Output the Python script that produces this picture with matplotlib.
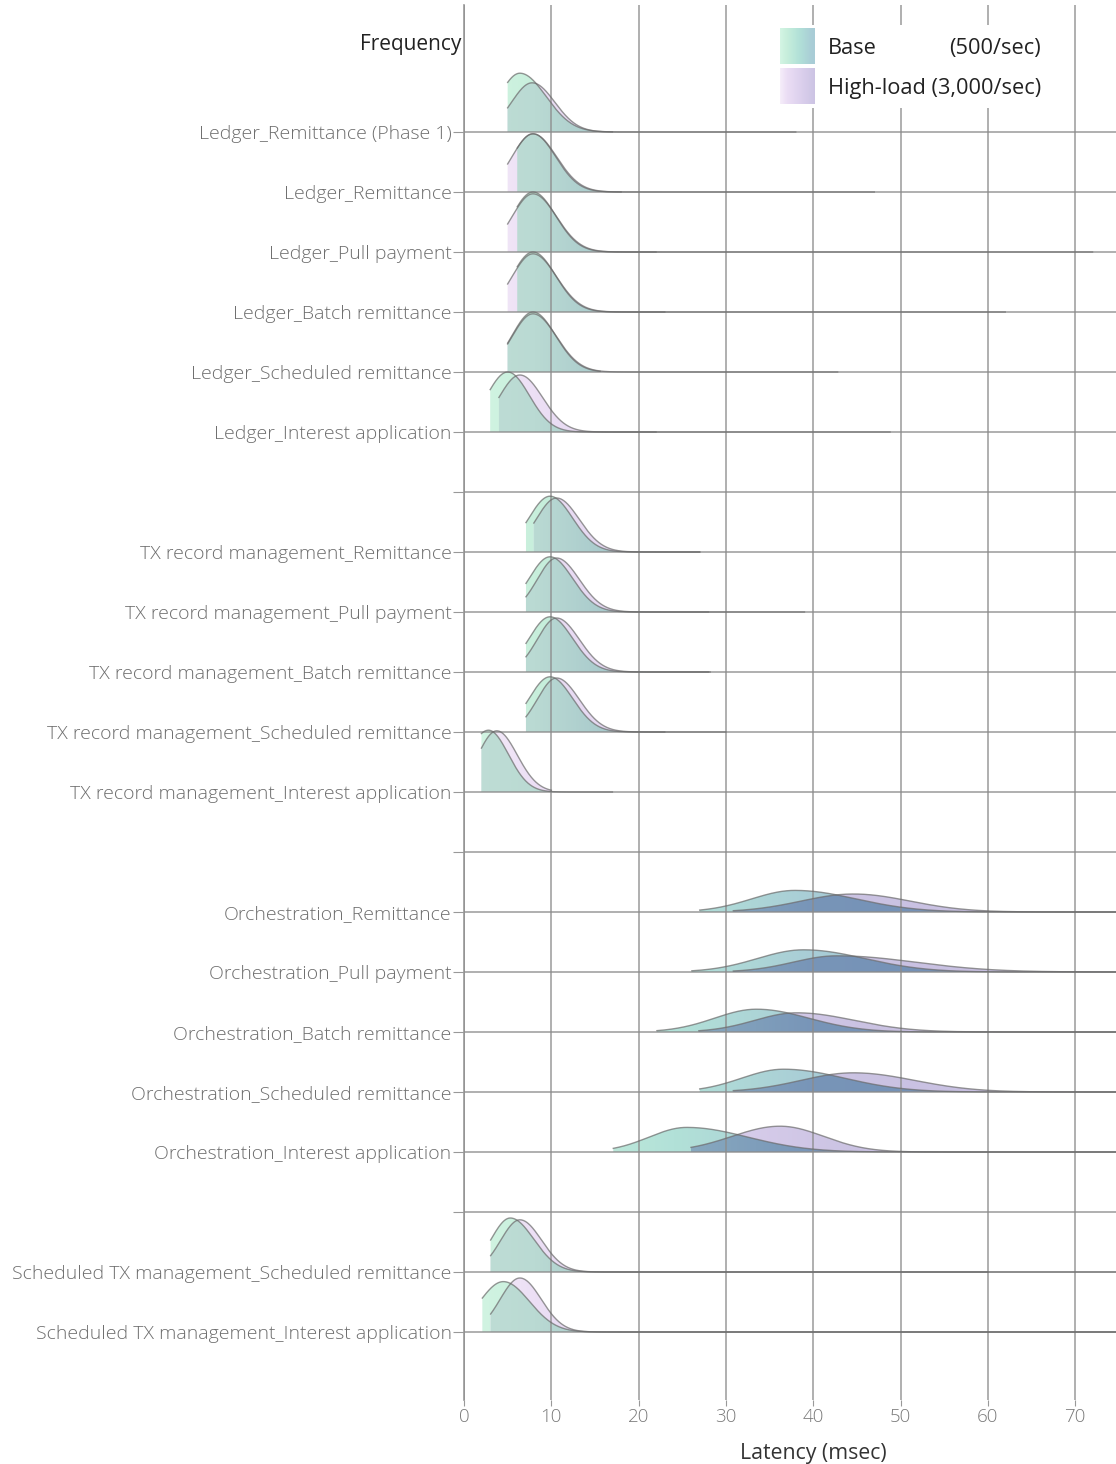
import numpy as np
import matplotlib
matplotlib.use("Agg")
import matplotlib.pyplot as plt
from matplotlib.colors import LinearSegmentedColormap
from matplotlib.patches import Polygon, Rectangle

plt.rcParams["font.family"] = ["Open Sans", "DejaVu Sans"]

# row labels, top to bottom ("" = spacer row between service groups)
labels = [
    "Ledger_Remittance (Phase 1)",
    "Ledger_Remittance",
    "Ledger_Pull payment",
    "Ledger_Batch remittance",
    "Ledger_Scheduled remittance",
    "Ledger_Interest application",
    "",
    "TX record management_Remittance",
    "TX record management_Pull payment",
    "TX record management_Batch remittance",
    "TX record management_Scheduled remittance",
    "TX record management_Interest application",
    "",
    "Orchestration_Remittance",
    "Orchestration_Pull payment",
    "Orchestration_Batch remittance",
    "Orchestration_Scheduled remittance",
    "Orchestration_Interest application",
    "",
    "Scheduled TX management_Scheduled remittance",
    "Scheduled TX management_Interest application",
]

# latency distributions (msec) per labelled row: min, mode, peak frequency,
# left / right spread around the mode, max
base_min = [5.0, 6.1, 6.1, 6.1, 5.0, 3.0, 7.1, 7.1, 7.1, 7.1, 2.0,
            27.0, 26.1, 22.1, 27.0, 17.1, 3.05, 2.1]
base_mode = [6.4, 7.9, 7.9, 7.9, 7.9, 5.0, 9.85, 9.85, 9.85, 9.85, 2.8,
             37.9, 38.9, 33.5, 36.6, 25.5, 5.3, 4.5]
base_peak = [0.98, 0.97, 1.0, 1.0, 1.0, 1.0, 0.93, 0.92, 0.92, 0.92, 1.03,
             0.36, 0.37, 0.38, 0.38, 0.41, 0.9, 0.84]
base_left = [2.4, 2.4, 2.4, 2.4, 2.4, 2.4, 2.43, 2.4, 2.4, 2.4, 2.4,
             4.95, 5.3, 4.8, 4.8, 4.3, 2.2, 2.7]
base_right = [3.0, 2.6, 2.6, 2.6, 2.6, 2.5, 2.6, 2.6, 2.6, 2.6, 2.3,
              7.0, 7.0, 6.0, 7.0, 7.0, 2.7, 3.0]
base_max = [17.0, 18.0, 22.0, 23.0, 15.6, 22.0, 27.0, 28.0, 28.2, 23.0, 17.0,
            80.0, 80.0, 80.0, 80.0, 80.0, 60.0, 80.0]

high_min = [5.0, 5.0, 5.0, 5.0, 5.0, 4.0, 8.0, 7.1, 7.1, 7.1, 2.0,
            30.85, 30.85, 26.9, 30.85, 26.0, 3.05, 3.05]
high_mode = [7.8, 7.9, 7.9, 7.9, 7.9, 6.4, 10.6, 10.6, 10.6, 10.6, 3.75,
             44.6, 42.7, 38.1, 44.6, 36.2, 6.4, 6.4]
high_peak = [0.82, 0.97, 0.97, 0.97, 0.97, 0.95, 0.9, 0.9, 0.9, 0.9, 1.02,
             0.3, 0.27, 0.32, 0.32, 0.43, 0.87, 0.9]
high_left = [2.35, 2.4, 2.4, 2.4, 2.4, 2.4, 2.33, 2.2, 2.2, 2.2, 2.15,
             6.0, 5.0, 4.8, 6.0, 5.5, 2.2, 2.26]
high_right = [2.6, 2.7, 2.7, 2.7, 2.7, 2.6, 2.6, 2.6, 2.6, 2.6, 2.35,
              6.5, 9.0, 6.6, 7.0, 5.0, 2.5, 2.45]
high_max = [38.0, 47.0, 72.0, 62.0, 42.8, 48.8, 27.0, 39.0, 28.0, 30.0, 10.0,
            80.0, 80.0, 80.0, 80.0, 80.0, 75.0, 80.0]

series_names = ["Base", "High-load"]
series_rates = ["(500/sec)", "(3,000/sec)"]

# fill colours shift along the latency axis
X_END = 80.0
base_cmap = LinearSegmentedColormap.from_list(
    "base", [(0, "#d4f5e4"), (0.1, "#c8efdc"), (0.3, "#b2e1d8"),
             (0.5, "#a9cdd6"), (1, "#a2c4d6")])
high_cmap = LinearSegmentedColormap.from_list(
    "high", [(0, "#f6eefa"), (0.1, "#ecdff5"), (0.38, "#d8cdeb"),
             (0.56, "#cbc3e3"), (1, "#c4bde0")])
both_cmap = LinearSegmentedColormap.from_list(
    "both", [(0, "#c0ded6"), (0.1, "#badad3"), (0.19, "#abcccd"),
             (0.31, "#88aabf"), (0.5, "#7895b8"), (1, "#6f8ab4")])

LINE = "#6a6a6a"
GRID = "#8c8c8c"


def curve(x, mode, peak, left, right):
    s = np.where(x < mode, left, right)
    return peak * np.exp(-0.5 * ((x - mode) / s) ** 2)


def gradient_fill(ax, x, y, y0, cmap, z):
    verts = np.vstack([[x[0], y0], np.column_stack([x, y0 + y]), [x[-1], y0]])
    patch = Polygon(verts, closed=True, facecolor="none", edgecolor="none")
    ax.add_patch(patch)
    img = cmap(np.linspace(0, 1, 512))[None, :, :3]
    im = ax.imshow(img, extent=[0, X_END, y0, y0 + 1.3], origin="lower",
                   aspect="auto", interpolation="bilinear", zorder=z)
    im.set_clip_path(patch)


fig = plt.figure(figsize=(11.16, 14.64), dpi=100)
ax = fig.add_axes([464 / 1116, 64 / 1464, 1 - 464 / 1116, 1395 / 1464])

rows = [i for i, lab in enumerate(labels) if lab]
for k, r in enumerate(rows):
    y0 = -r
    z = 2 + r * 0.01
    xb = np.linspace(base_min[k], base_max[k], 1500)
    fb = curve(xb, base_mode[k], base_peak[k], base_left[k], base_right[k])
    xh = np.linspace(high_min[k], high_max[k], 1500)
    fh = curve(xh, high_mode[k], high_peak[k], high_left[k], high_right[k])
    gradient_fill(ax, xb, fb, y0, base_cmap, z)
    gradient_fill(ax, xh, fh, y0, high_cmap, z + 0.001)
    lo = max(base_min[k], high_min[k])
    hi = min(base_max[k], high_max[k])
    xo = np.linspace(lo, hi, 1500)
    fo = np.minimum(curve(xo, base_mode[k], base_peak[k], base_left[k], base_right[k]),
                    curve(xo, high_mode[k], high_peak[k], high_left[k], high_right[k]))
    gradient_fill(ax, xo, fo, y0, both_cmap, z + 0.002)
    ax.plot(xb, y0 + fb, color=LINE, lw=1.0, alpha=0.7, zorder=6)
    ax.plot(xh, y0 + fh, color=LINE, lw=1.0, alpha=0.7, zorder=6)

# grid drawn over the fills
ax.set_xlim(0, (1116 - 464) / 8.73)
ax.set_ylim(-(1400 - 132) / 60, (132 - 5) / 60)
ax.set_xticks(np.arange(0, 80, 10))
ax.set_yticks([-i for i in range(len(labels))])
ax.set_yticklabels(labels)
ax.grid(True, color=GRID, lw=1.3, alpha=0.75)
ax.set_axisbelow(False)
for gl in ax.get_xgridlines() + ax.get_ygridlines():
    gl.set_zorder(5)

for side in ["top", "right", "bottom"]:
    ax.spines[side].set_visible(False)
ax.spines["left"].set_color("#999999")
ax.spines["left"].set_linewidth(1.2)
ax.tick_params(axis="y", length=8, color="#999999", labelsize=14,
               labelcolor="#6e6e6e", pad=1)
ax.tick_params(axis="x", length=4, color="#999999", labelsize=13.5,
               labelcolor="#7a7a7a", pad=2)
for t in ax.get_yticklabels() + ax.get_xticklabels():
    t.set_fontweight("light")

ax.set_xlabel("Latency (msec)", fontsize=15.3, color="#333333")
ax.xaxis.set_label_coords(40 / ax.get_xlim()[1], -0.031)
ax.text(-0.35, (132 - 45) / 60, "Frequency", ha="right", va="center",
        fontsize=15, color="#222222")

# legend box with gradient swatches
ax.add_patch(Rectangle((35.6, (132 - 108) / 60), 31.5, 83 / 60,
                       facecolor="white", edgecolor="none", zorder=7))
for i, cmap in enumerate([base_cmap, high_cmap]):
    top = (132 - 28 - 40 * i) / 60
    img = cmap(np.linspace(0.0, 0.55, 256))[None, :, :3]
    ax.imshow(img, extent=[36.2, 40.2, top - 36 / 60, top], origin="lower",
              aspect="auto", interpolation="bilinear", zorder=8)
    yc = top - 21 / 60
    if i == 0:
        ax.text(41.7, yc, series_names[i], ha="left", va="center",
                fontsize=15.7, color="#222222", zorder=9)
        ax.text(66.1, yc, series_rates[i], ha="right", va="center",
                fontsize=15.7, color="#222222", zorder=9)
    else:
        ax.text(41.7, yc, series_names[i] + " " + series_rates[i], ha="left",
                va="center", fontsize=15.7, color="#222222", zorder=9)

ax.set_xlim(0, (1116 - 464) / 8.73)
ax.set_ylim(-(1400 - 132) / 60, (132 - 5) / 60)

fig.savefig("out.png", dpi=100)
